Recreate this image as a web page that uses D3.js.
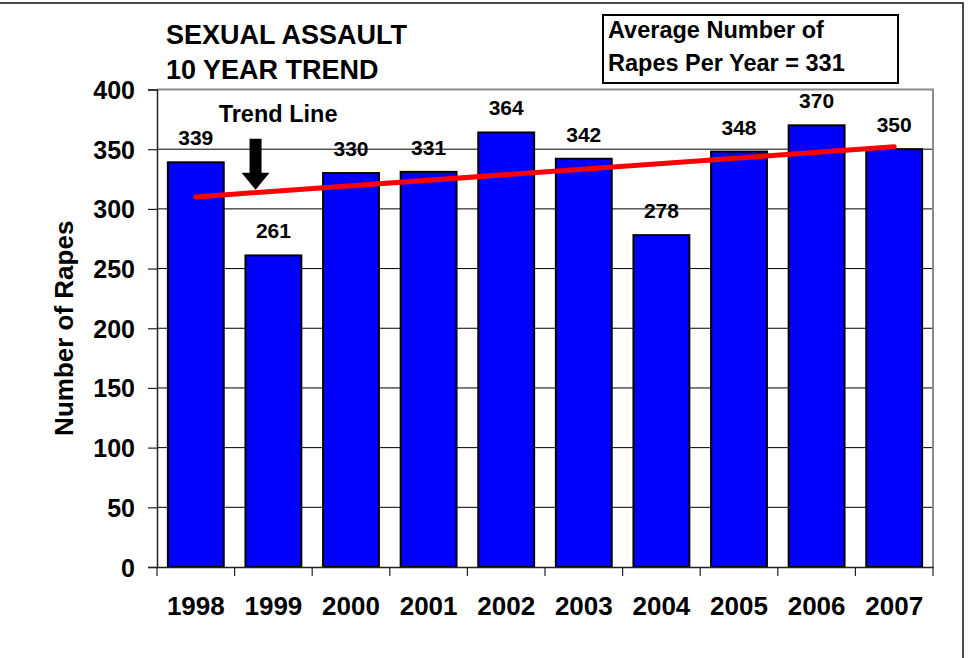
<!DOCTYPE html>
<html>
<head>
<meta charset="utf-8">
<script src="https://cdn.jsdelivr.net/npm/d3@7"></script>
<style>
  body { margin: 0; background: #fff; }
  svg { display: block; font-family: "Liberation Sans", Arial, sans-serif; font-weight: bold; }
</style>
</head>
<body>
<div id="chart"></div>
<script>
// data
const years = ["1998", "1999", "2000", "2001", "2002", "2003", "2004", "2005", "2006", "2007"];
const rapes = [339, 261, 330, 331, 364, 342, 278, 348, 370, 350];
const yTicks = [0, 50, 100, 150, 200, 250, 300, 350, 400];
// trend line ends (1998, 2007)
const trendYears = ["1998", "2007"];
const trendValues = [310, 352];
const titleLines = ["SEXUAL ASSAULT", "10 YEAR TREND"];
const avgLines = ["Average Number of", "Rapes Per Year = 331"];

document.addEventListener('DOMContentLoaded', function () {
    const W = 971, H = 658;
    const margin = { top: 89.5, right: 38, bottom: 91, left: 157 };
    const width = W - margin.left - margin.right;
    const height = H - margin.top - margin.bottom;

    const root = d3.select("#chart")
        .append("svg")
        .attr("width", W)
        .attr("height", H);

    // outer frame
    root.append("rect")
        .attr("x", -5).attr("y", 3)
        .attr("width", 968).attr("height", 720)
        .attr("fill", "none")
        .attr("stroke", "#111")
        .attr("stroke-width", 1.5);

    const svg = root.append("g")
        .attr("transform", "translate(" + margin.left + "," + margin.top + ")");

    const x = d3.scaleBand().domain(years).range([0, width]).padding(0);
    const y = d3.scaleLinear().domain([0, 400]).range([height, 0]);

    // gridlines
    svg.append("g")
        .selectAll("line")
        .data(yTicks.filter(d => d > 0 && d < 400))
        .join("line")
        .attr("x1", 0).attr("x2", width)
        .attr("y1", d => y(d)).attr("y2", d => y(d))
        .attr("stroke", "#000")
        .attr("stroke-width", 1);

    // plot area border top/right
    svg.append("path")
        .attr("d", "M0," + y(400) + "H" + width + "V" + y(0))
        .attr("fill", "none")
        .attr("stroke", "#8c8c8c")
        .attr("stroke-width", 2);

    // bars
    const barW = x.bandwidth() * 0.72;
    svg.append("g")
        .selectAll("rect")
        .data(rapes)
        .join("rect")
        .attr("x", (d, i) => x(years[i]) + (x.bandwidth() - barW) / 2)
        .attr("y", d => y(d))
        .attr("width", barW)
        .attr("height", d => y(0) - y(d))
        .attr("fill", "#0000ff")
        .attr("stroke", "#000")
        .attr("stroke-width", 2);

    // value labels
    svg.append("g")
        .selectAll("text")
        .data(rapes)
        .join("text")
        .attr("x", (d, i) => x(years[i]) + x.bandwidth() / 2)
        .attr("y", d => y(d) - 17)
        .attr("text-anchor", "middle")
        .style("font-size", "21px")
        .text(d => d);

    // trend line
    const line = d3.line()
        .x((d, i) => x(trendYears[i]) + x.bandwidth() / 2)
        .y(d => y(d));
    svg.append("path")
        .datum(trendValues)
        .attr("d", line)
        .attr("fill", "none")
        .attr("stroke", "#ff0000")
        .attr("stroke-width", 5)
        .attr("stroke-linecap", "round");

    // axes
    const yAxis = svg.append("g")
        .call(d3.axisLeft(y).tickValues(yTicks).tickSize(9).tickPadding(13));
    yAxis.select(".domain").attr("stroke", "#222").attr("stroke-width", 1.5);
    yAxis.selectAll(".tick line").attr("stroke", "#222").attr("stroke-width", 1.2);
    yAxis.selectAll("text")
        .style("font-size", "25px")
        .style("font-weight", "bold")
        .style("font-family", "Liberation Sans, Arial, sans-serif")
        .attr("fill", "#000")
        .attr("dy", "0.36em");

    const xAxis = svg.append("g")
        .attr("transform", "translate(0," + height + ")")
        .call(d3.axisBottom(x).tickSize(0).tickPadding(0));
    xAxis.select(".domain").attr("stroke", "#222").attr("stroke-width", 1.5);
    xAxis.selectAll("text")
        .attr("y", 48)
        .attr("dy", 0)
        .style("font-size", "26px")
        .style("font-weight", "bold")
        .style("font-family", "Liberation Sans, Arial, sans-serif")
        .attr("fill", "#000");

    // x ticks at category boundaries
    svg.append("g")
        .selectAll("line")
        .data(years.concat(["end"]))
        .join("line")
        .attr("x1", (d, i) => i * x.step())
        .attr("x2", (d, i) => i * x.step())
        .attr("y1", height)
        .attr("y2", height + 9)
        .attr("stroke", "#222")
        .attr("stroke-width", 1.2);

    // y axis title
    root.append("text")
        .attr("transform", "translate(73," + (margin.top + height / 2) + ") rotate(-90)")
        .attr("text-anchor", "middle")
        .style("font-size", "26px")
        .text("Number of Rapes");

    // chart title
    root.append("g")
        .selectAll("text")
        .data(titleLines)
        .join("text")
        .attr("x", 166)
        .attr("y", (d, i) => 44 + i * 35)
        .style("font-size", "27px")
        .text(d => d);

    // average box
    root.append("rect")
        .attr("x", 603).attr("y", 15)
        .attr("width", 295).attr("height", 68)
        .attr("fill", "#fff")
        .attr("stroke", "#000")
        .attr("stroke-width", 2);
    root.append("g")
        .selectAll("text")
        .data(avgLines)
        .join("text")
        .attr("x", 608)
        .attr("y", (d, i) => 37.5 + i * 33.5)
        .style("font-size", "23.5px")
        .text(d => d);

    // trend line annotation + arrow
    const ax = x("1998") + x.step() * 1.27;
    const tipY = y(316);
    svg.append("text")
        .attr("x", x("1998") + x.step() * 1.56)
        .attr("y", y(372.5))
        .attr("text-anchor", "middle")
        .style("font-size", "23.5px")
        .text("Trend Line");
    svg.append("path")
        .attr("d", "M" + (ax - 6) + "," + (tipY - 51) +
            "H" + (ax + 6) + "V" + (tipY - 17) +
            "H" + (ax + 14) + "L" + ax + "," + tipY +
            "L" + (ax - 14) + "," + (tipY - 17) +
            "H" + (ax - 6) + "Z")
        .attr("fill", "#000");
});
</script>
</body>
</html>
